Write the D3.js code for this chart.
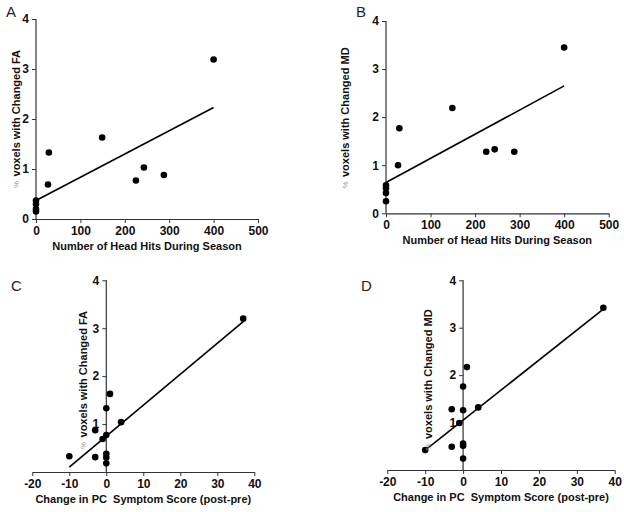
<!DOCTYPE html>
<html><head><meta charset="utf-8">
<script src="https://cdn.jsdelivr.net/npm/d3@7"></script>
<style>
html,body{margin:0;padding:0;background:#fff;}
svg{display:block;}
text{font-family:"Liberation Sans",Arial,sans-serif;}
</style></head>
<body>
<svg id="chart" width="624" height="512"></svg>
<script>
// ---- data ----
const hitsA = [0, 0, 0, 0, 27, 29, 149, 225, 243, 288, 400];
const faA   = [0.15, 0.2, 0.3, 0.37, 0.69, 1.33, 1.63, 0.77, 1.03, 0.88, 3.19];
const hitsB = [0, 0, 0, 0, 27, 30, 149, 225, 244, 288, 400];
const mdB   = [0.25, 0.42, 0.52, 0.58, 1.0, 1.77, 2.19, 1.28, 1.33, 1.28, 3.45];
const pcC   = [-10, -3, -3, -1, 0, 0, 0, 0, 0, 1, 4, 37];
const faC   = [0.33, 0.87, 0.31, 0.69, 0.77, 1.33, 0.38, 0.3, 0.18, 1.63, 1.04, 3.2];
const pcD   = [-10, -3, -3, -1, 0, 0, 0, 0, 0, 1, 4, 37];
const mdD   = [0.42, 1.28, 0.49, 0.99, 1.26, 1.76, 0.56, 0.51, 0.24, 2.17, 1.32, 3.42];
// regression lines (endpoints)
const fitAx = [0, 400],  fitAy = [0.37, 2.23];
const fitBx = [0, 400],  fitBy = [0.64, 2.65];
const fitCx = [-10, 37], fitCy = [0.10, 3.14];
const fitDx = [-10, 37], fitDy = [0.42, 3.39];
// ticks
const hitTicks = [0, 100, 200, 300, 400, 500];
const pcTicks = [-20, -10, 0, 10, 20, 30, 40];
const yTicksAB = [0, 1, 2, 3, 4];
const yTicksCD = [1, 2, 3, 4];
const titleHits = "Number of Head Hits During Season";
const titlePC = "Change in PC\u00a0\u00a0Symptom Score (post-pre)";

const svg = d3.select("#chart");
const fmt = d3.format("d");

function panel(cfg) {
  const x = d3.scaleLinear().domain(cfg.xDomain).range(cfg.xRange);
  const y = d3.scaleLinear().domain([0, 4]).range(cfg.yRange);
  const g = svg.append("g");

  // x axis
  const xAxis = d3.axisBottom(x).tickValues(cfg.xTicks).tickFormat(fmt).tickSize(4).tickSizeOuter(0).tickPadding(3);
  const gx = g.append("g").attr("transform", `translate(0,${cfg.yRange[0]})`).call(xAxis);
  // y axis at x=0
  const yAxis = d3.axisLeft(y).tickValues(cfg.yTicks).tickFormat(fmt).tickSize(4).tickSizeOuter(0).tickPadding(3);
  const gy = g.append("g").attr("transform", `translate(${x(0)},0)`).call(yAxis);
  [gx, gy].forEach(a => {
    a.select(".domain").attr("stroke", "#333").attr("stroke-width", 1.2);
    a.selectAll(".tick line").attr("stroke", "#333").attr("stroke-width", 1);
    a.selectAll(".tick text").attr("fill", "#111").attr("font-weight", "bold")
      .attr("font-size", "12px").attr("font-family", '"Liberation Sans", Arial, sans-serif');
  });
  gx.selectAll(".tick text").text(d => String(d).replace("-", "-"));
  gy.select(".domain").attr("d", `M0,${cfg.yRange[0]}V${cfg.yRange[1]}`);

  // fit line
  const line = d3.line().x(d => x(d[0])).y(d => y(d[1]));
  g.append("path").datum(d3.zip(cfg.fitX, cfg.fitY))
    .attr("d", line).attr("fill", "none").attr("stroke", "#000").attr("stroke-width", 1.6);

  // points
  g.selectAll("circle.pt").data(d3.zip(cfg.xs, cfg.ys)).join("circle")
    .attr("class", "pt").attr("cx", d => x(d[0])).attr("cy", d => y(d[1]))
    .attr("r", 3.3).attr("fill", "#000");

  // x title
  g.append("text").attr("x", (cfg.xRange[0] + cfg.xRange[1]) / 2).attr("y", cfg.yRange[0] + 31)
    .attr("text-anchor", "middle").attr("font-weight", "bold").attr("font-size", "11px")
    .attr("fill", "#111").text(cfg.xTitle);

  // y title
  const yt = g.append("text")
    .attr("transform", `translate(${cfg.yTitlePos[0]},${cfg.yTitlePos[1]}) rotate(-90)`)
    .attr("text-anchor", "middle").attr("dominant-baseline", "central")
    .attr("font-weight", "bold").attr("font-size", "11px").attr("fill", "#111");
  yt.append("tspan").attr("fill", "#999").attr("font-size", "8px").attr("font-weight", "normal").text("%\u00a0\u00a0");
  yt.append("tspan").text(cfg.yTitle);

  // panel letter
  svg.append("text").attr("x", cfg.letterPos[0]).attr("y", cfg.letterPos[1])
    .attr("font-size", "15px").attr("fill", "#222").text(cfg.letter);
}

panel({letter: "A", letterPos: [6, 17], xs: hitsA, ys: faA, fitX: fitAx, fitY: fitAy,
  xDomain: [0, 500], xRange: [36, 258], yRange: [219, 19], xTicks: hitTicks, yTicks: yTicksAB,
  xTitle: titleHits, yTitle: "voxels with Changed FA", yTitlePos: [15.5, 119]});
panel({letter: "B", letterPos: [356, 17], xs: hitsB, ys: mdB, fitX: fitBx, fitY: fitBy,
  xDomain: [0, 500], xRange: [386, 608.7], yRange: [213.3, 21], xTicks: hitTicks, yTicks: yTicksAB,
  xTitle: titleHits, yTitle: "voxels with Changed MD", yTitlePos: [345, 118]});
panel({letter: "C", letterPos: [11, 291], xs: pcC, ys: faC, fitX: fitCx, fitY: fitCy,
  xDomain: [-20, 40], xRange: [32.3, 254.3], yRange: [472, 280.3], xTicks: pcTicks, yTicks: yTicksCD,
  xTitle: titlePC, yTitle: "voxels with Changed FA", yTitlePos: [82.5, 380]});
panel({letter: "D", letterPos: [361, 291], xs: pcD, ys: mdD, fitX: fitDx, fitY: fitDy,
  xDomain: [-20, 40], xRange: [387.3, 614.7], yRange: [470, 280.3], xTicks: pcTicks, yTicks: yTicksCD,
  xTitle: titlePC, yTitle: "voxels with Changed MD", yTitlePos: [428, 380]});
</script>
</body></html>
